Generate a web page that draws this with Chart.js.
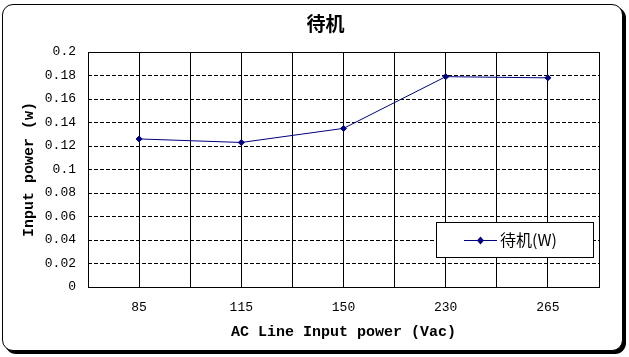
<!DOCTYPE html>
<html>
<head>
<meta charset="utf-8">
<script src="https://cdn.jsdelivr.net/npm/chart.js@4/dist/chart.umd.min.js"></script>
<style>
  html, body { margin: 0; padding: 0; background: #fff; }
  #frame { position: absolute; left: 2px; top: 4px; width: 621px; height: 347px; box-sizing: border-box;
           border: 1px solid #000; border-radius: 11px; box-shadow: 3px 3px 0 #000; background: #fff; }
  #wrap { position: absolute; left: 0; top: 0; width: 629px; height: 357px; }
</style>
</head>
<body>
<div id="frame"></div>
<div id="wrap"><canvas id="c" width="629" height="357"></canvas></div>
<script>
const chartTitle = '待机';
const categories = ['85', '115', '150', '230', '265'];
const seriesName = '待机(W)';
const seriesValues = [0.126, 0.123, 0.135, 0.179, 0.178];
const yTicks = [0, 0.02, 0.04, 0.06, 0.08, 0.1, 0.12, 0.14, 0.16, 0.18, 0.2];
const xAxisTitle = 'AC Line Input power (Vac)';
const yAxisTitle = 'Input power (w)';

const NAVY = '#000080';
const tickFont = { family: '"Liberation Mono", monospace', size: 13 };
const axisTitleFont = { family: '"Liberation Mono", monospace', size: 15, weight: 'bold' };

const framePlugin = {
  id: 'frame',
  beforeDatasetsDraw(chart) {
    const { ctx, chartArea: a } = chart;
    ctx.save();
    ctx.strokeStyle = '#000';
    ctx.lineWidth = 1;
    ctx.setLineDash([]);
    ctx.strokeRect(Math.round(a.left) + 0.5, Math.round(a.top) + 0.5,
                   Math.round(a.right) - Math.round(a.left), Math.round(a.bottom) - Math.round(a.top));
    ctx.restore();
  }
};

const titlePlugin = {
  id: 'customTitle',
  afterDraw(chart) {
    const { ctx, chartArea: a } = chart;
    ctx.save();
    ctx.font = 'bold 19px "Noto Sans CJK SC", sans-serif';
    ctx.fillStyle = '#000';
    ctx.textAlign = 'center';
    ctx.textBaseline = 'middle';
    ctx.fillText(chartTitle, (a.left + a.right) / 2 - 18, 24);
    ctx.restore();
  }
};

const legendPlugin = {
  id: 'customLegend',
  afterDraw(chart) {
    const { ctx, chartArea: a } = chart;
    const ds = chart.data.datasets[0];
    const w = 157, h = 35;
    const x = Math.round(a.right - 6 - w), y = Math.round(a.bottom - 30 - h);
    ctx.save();
    ctx.fillStyle = '#fff';
    ctx.fillRect(x, y, w, h);
    ctx.strokeStyle = '#000';
    ctx.lineWidth = 1;
    ctx.setLineDash([]);
    ctx.strokeRect(x + 0.5, y + 0.5, w, h);
    const cy = y + 18;
    ctx.strokeStyle = ds.borderColor;
    ctx.beginPath();
    ctx.moveTo(x + 28, cy + 0.5);
    ctx.lineTo(x + 61, cy + 0.5);
    ctx.stroke();
    ctx.fillStyle = ds.backgroundColor;
    ctx.beginPath();
    ctx.moveTo(x + 44.5, cy - 3.5);
    ctx.lineTo(x + 48, cy + 0.5);
    ctx.lineTo(x + 44.5, cy + 4.5);
    ctx.lineTo(x + 41, cy + 0.5);
    ctx.closePath();
    ctx.fill();
    ctx.fillStyle = '#000';
    ctx.font = '16px "Noto Sans CJK SC", sans-serif';
    ctx.textBaseline = 'middle';
    ctx.fillText(ds.label, x + 64, cy);
    ctx.restore();
  }
};

new Chart(document.getElementById('c'), {
  type: 'line',
  data: {
    labels: categories,
    datasets: [{
      label: seriesName,
      data: seriesValues,
      borderColor: NAVY,
      backgroundColor: NAVY,
      borderWidth: 1,
      pointStyle: 'rectRot',
      pointRadius: 3,
      pointBorderWidth: 1,
      pointBorderColor: NAVY,
      pointBackgroundColor: NAVY,
      tension: 0,
      fill: false
    }]
  },
  options: {
    responsive: false,
    animation: false,
    devicePixelRatio: 1,
    layout: { padding: { left: 18, right: 30, top: 52, bottom: 12 } },
    plugins: {
      legend: { display: false },
      title: { display: false },
      tooltip: { enabled: false }
    },
    scales: {
      x: {
        type: 'category',
        offset: true,
        grid: { offset: true, color: '#000', lineWidth: 1, drawTicks: false, tickLength: 0 },
        border: { display: false },
        ticks: { font: tickFont, color: '#000', padding: 13, maxRotation: 0 },
        title: { display: true, text: xAxisTitle, font: axisTitleFont, color: '#000', padding: { top: 0, bottom: 4 } },
        afterFit(s) { s.height = 58; }
      },
      x2: {
        type: 'category',
        position: 'bottom',
        offset: true,
        grid: { offset: false, color: '#000', lineWidth: 1, drawTicks: false, tickLength: 0 },
        border: { display: false },
        ticks: { display: false },
        afterFit(s) { s.height = 0; }
      },
      y: {
        min: 0,
        max: 0.2,
        afterBuildTicks(s) { s.ticks = yTicks.map(v => ({ value: v })); },
        grid: { color: '#000', lineWidth: 1, drawTicks: false, tickLength: 0 },
        border: { display: false, dash: [4, 2] },
        ticks: { font: tickFont, color: '#000', padding: 12, callback: v => String(v) },
        title: { display: true, text: yAxisTitle, font: axisTitleFont, color: '#000', padding: { top: 2, bottom: 0 } },
        afterFit(s) { s.width = 70; }
      }
    }
  },
  plugins: [framePlugin, titlePlugin, legendPlugin]
});
</script>
</body>
</html>
